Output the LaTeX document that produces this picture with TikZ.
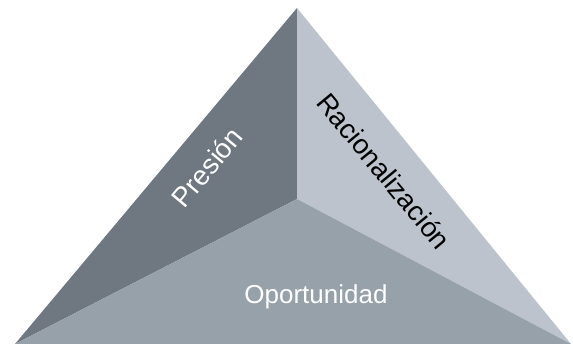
\documentclass[tikz,border=0pt]{standalone}
\usepackage{fontspec}
\setmainfont{Liberation Sans}
\definecolor{presioncol}{HTML}{6F7880}
\definecolor{racioncol}{HTML}{BCC3CC}
\definecolor{oportcol}{HTML}{97A1AA}
\begin{document}
\begin{tikzpicture}[x=1pt,y=1pt,
    facetext/.style={font=\fontsize{27.5}{32}\selectfont,inner sep=0pt}]
  \useasboundingbox (0,0) rectangle (573,344);
  \coordinate (apex) at (297,336);
  \coordinate (left) at (15,0);
  \coordinate (right) at (571,0);
  \coordinate (mid) at (297,145);
  \fill[presioncol] (apex) -- (mid) -- (left) -- cycle;
  \fill[racioncol] (apex) -- (right) -- (mid) -- cycle;
  \fill[oportcol] (mid) -- (right) -- (left) -- cycle;
  \node[facetext,white,rotate=50] (presion) at (207,177) {Presión};
  \node[facetext,black,rotate=-50.5] (racion) at (384,173) {Racionalización};
  \node[facetext,white,font=\fontsize{26}{30}\selectfont] (oport) at (316,47) {Oportunidad};
\end{tikzpicture}
\end{document}
